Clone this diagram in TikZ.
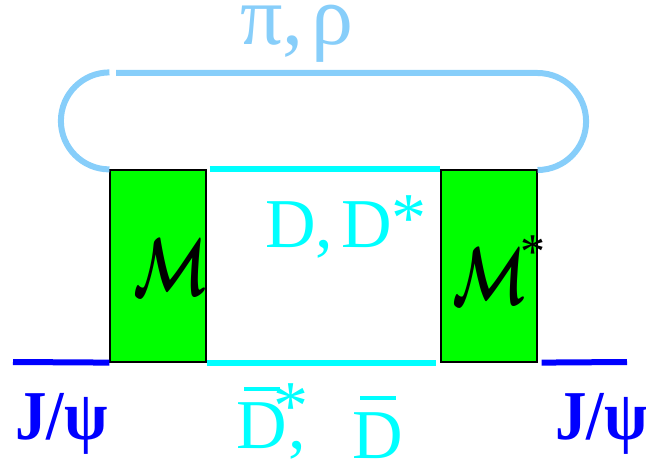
\documentclass[tikz,border=0pt]{standalone}
\usepackage{amsmath}
\usepackage{fontspec}
\setmainfont{Liberation Serif}
\definecolor{lsb}{RGB}{135,206,250}
\definecolor{cy}{RGB}{0,255,255}
\definecolor{gr}{RGB}{0,255,0}
\definecolor{bl}{RGB}{0,0,255}
\newcommand{\dbarD}[1]{\leavevmode\rlap{\hspace{8pt}\rule[#1]{36pt}{4pt}}D}
\begin{document}
\begin{tikzpicture}[x=1pt,y=1pt,
  box/.style={draw=black, line width=1.2pt, fill=gr, minimum width=96pt, minimum height=192pt, inner sep=0pt},
  loopline/.style={draw=lsb, line width=6pt},
  mesonline/.style={draw=cy, line width=6pt},
  psiline/.style={draw=bl, line width=6pt},
  big/.style={font=\fontsize{70}{84}\selectfont, inner sep=0pt, anchor=base west}]
\useasboundingbox (0,0) rectangle (646,459);
\node[box] (L) at (158,193) {};
\node[box] (R) at (489,193) {};
% pi/rho loop
\draw[loopline] (L.north west) arc[start angle=270, end angle=90, radius=48.5];
\coordinate (ts) at (116,386);
\draw[loopline] (ts) -- (R.north east |- ts) arc[start angle=90, end angle=-90, radius=48.5];
% D mesons
\draw[mesonline] ([xshift=3pt]L.north east) -- (R.north west);
\draw[mesonline] (L.south east) -- ([xshift=-4pt]R.south west);
% J/psi
\coordinate (jl) at (13,97);
\coordinate (jr) at (627,97);
\draw[psiline] (jl) -- (L.south west);
\draw[psiline] ([xshift=4pt]R.south east) -- (jr);
% labels
\node[big, text=lsb, font=\fontsize{84}{96}\selectfont] (pr) at (240,414) {π,\hspace{8pt}ρ};
\node[big, text=cy] (dd) at (265,212) {D,\hspace{8pt}D\raisebox{6pt}{*}};
\node[inner sep=0pt, anchor=base west] (m1) at (133,164) {\scalebox{5.4}[8.2]{\boldmath$\mathcal{M}$}};
\node[inner sep=0pt, anchor=base west] (m2) at (452,155) {\scalebox{5.4}[8.2]{\boldmath$\mathcal{M}$}\hspace{-6pt}\raisebox{36pt}{\fontsize{50}{60}\selectfont *}};
\node[big, text=bl] (j1) at (15,20) {\scalebox{0.9}[1]{\bfseries J/ψ}};
\node[big, text=bl] (j2) at (555,20) {\scalebox{0.9}[1]{\bfseries J/ψ}};
\node[big, text=cy] (db) at (236,1) {\rlap{\raisebox{10pt}{\dbarD{57pt}\hspace{-13pt}\raisebox{19pt}{*}\hspace{-20pt},}}\hspace{116pt}\dbarD{58pt}};
\end{tikzpicture}
\end{document}
